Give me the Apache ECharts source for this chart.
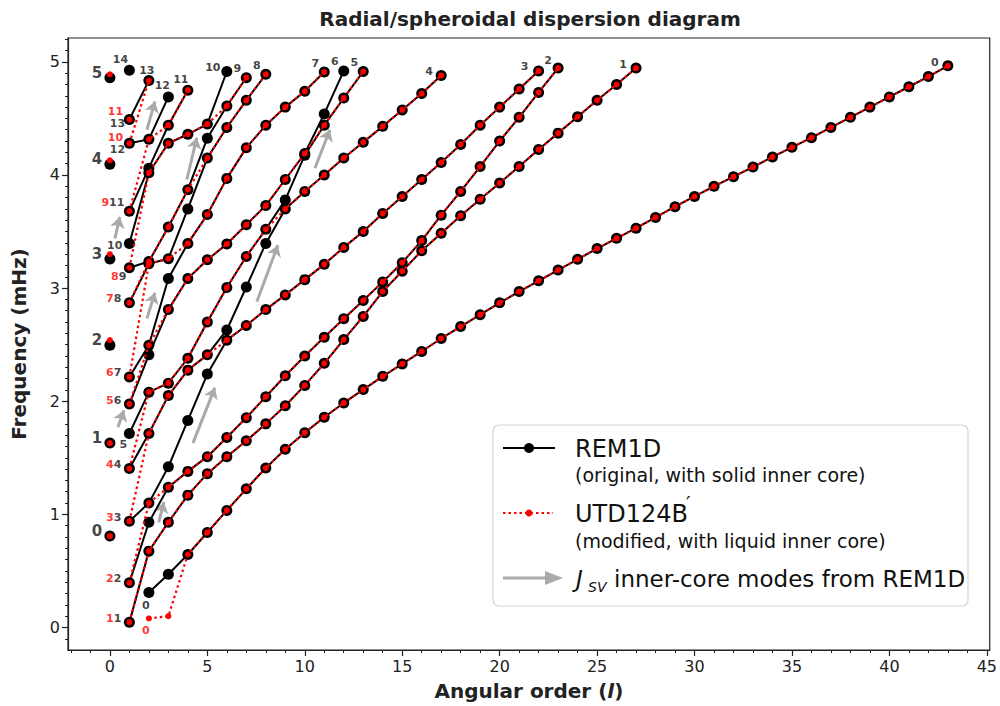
<!DOCTYPE html>
<html><head><meta charset="utf-8">
<script src="https://cdn.jsdelivr.net/npm/echarts@6/dist/echarts.min.js"></script>
<style>html,body{margin:0;padding:0;background:#fff}#c{width:1000px;height:706px}</style>
</head><body><div id="c"></div>
<script>
// ================= DATA =================
const xTickLabels = [0,5,10,15,20,25,30,35,40,45];
const yTickLabels = [0,1,2,3,4,5];

// radial modes (l = 0), mHz
const radialRem = [0.808, 1.63, 2.496, 3.257, 4.095, 4.86];
const radialUtd = [0.808, 1.63, 2.54, 3.30, 4.13, 4.89];

// l = 1 modes present in both models
const l1Shared = [0.047, 0.395, 0.94, 1.405, 1.975, 2.215, 2.87, 3.18, 3.68, 4.28, 4.49];

// fundamental branch, REM1D, l = 2..43
const fundamental = [0.31,0.47,0.645,0.84,1.035,1.226,1.41,1.575,1.722,1.858,1.985,2.103,2.22,2.33,2.44,2.555,2.66,2.765,2.87,2.97,3.065,3.16,3.255,3.35,3.44,3.53,3.625,3.72,3.81,3.90,3.985,4.07,4.16,4.245,4.33,4.42,4.51,4.60,4.69,4.78,4.87,4.965];
// UTD124B' lowest modes at l = 2, 3 (replace the first two fundamental values)
const fundamentalUtdLow = [0.08, 0.10];

// shared overtone curves (start l = 2)
const overtone1 = [0.675,0.93,1.17,1.36,1.51,1.65,1.80,1.96,2.14,2.335,2.545,2.75,2.97,3.15,3.33,3.485,3.64,3.785,3.93,4.075,4.225,4.37,4.515,4.66,4.80,4.945];
const overtone2 = [1.10,1.24,1.38,1.51,1.68,1.855,2.04,2.225,2.40,2.565,2.73,2.89,3.055,3.225,3.42,3.645,3.855,4.075,4.30,4.51,4.73,4.945];
const overtone3 = [2.08,2.16,2.275,2.41,2.54,2.67,2.81,2.94,3.075,3.21,3.36,3.50,3.66,3.81,3.96,4.11,4.27,4.44,4.60,4.76,4.92];
const overtone4 = [1.715,2.05,2.38,2.70,3.005,3.28,3.52,3.70,3.855,4.00,4.15,4.29,4.43,4.575,4.72,4.88];

// remaining shared higher modes, by angular order
const higherL2  = [2.495, 3.215, 3.235, 4.02, 4.315, 4.835];
const higherL3  = [2.81, 3.26, 3.54, 4.28, 4.44];
const higherL4  = [3.085, 3.395, 3.87, 4.36, 4.75];
const higherL5  = [3.25, 3.65, 4.15, 4.45];
const higherL6  = [3.39, 3.97, 4.42, 4.61];
const higherL7  = [3.56, 4.24, 4.66, 4.86];
const higherL8  = [3.73, 4.44, 4.89];
const higherL9  = [3.96, 4.60];
const higherL10 = [4.19, 4.74];
const higherL11 = [4.44, 4.91];
const higherL12 = [4.68];
const higherL13 = [4.915];

// inner-core (J_SV) modes, REM1D only
const jsv1 = [0.93,1.42,1.83,2.24,2.63,3.01,3.395,3.78,4.175,4.54,4.92]; // l = 2..12
const jsv2 = [1.715,2.41,3.085,3.70,4.325,4.915];                      // l = 1..6
const jsv3 = [3.395,4.06,4.69];                                        // l = 1..3
const jsv4 = [4.925];                                                  // l = 1

// grey J_SV arrows [l0, f0, l1, f1]
const jsvArrows = [
  [0.41,1.77,0.72,1.92],[0.26,3.44,0.51,3.63],[1.90,4.40,2.31,4.65],[3.95,3.96,4.46,4.33],
  [1.90,2.73,2.31,2.96],[7.54,2.88,8.62,3.38],[4.26,1.63,5.39,2.12],[2.51,0.93,2.77,1.11],
  [10.52,4.06,11.29,4.40]
];

// ================= BUILD =================
const remAt = {}, utdAt = {};
const push = (m,l,f)=>{(m[l]=m[l]||[]).push(f);};
function addCurve(vals,l0,toRem,toUtd){vals.forEach((f,i)=>{if(toRem)push(remAt,l0+i,f);if(toUtd)push(utdAt,l0+i,f);});}
l1Shared.forEach(f=>{push(remAt,1,f);push(utdAt,1,f);});
addCurve(fundamental,2,true,false);
addCurve(fundamental.slice(2),4,false,true);
addCurve(fundamentalUtdLow,2,false,true);
[overtone1,overtone2,overtone3,overtone4].forEach(c=>addCurve(c,2,true,true));
[higherL2,higherL3,higherL4,higherL5,higherL6,higherL7,higherL8,higherL9,higherL10,higherL11,higherL12,higherL13]
  .forEach((arr,i)=>arr.forEach(f=>{push(remAt,i+2,f);push(utdAt,i+2,f);}));
addCurve(jsv1,2,true,false);addCurve(jsv2,1,true,false);addCurve(jsv3,1,true,false);addCurve(jsv4,1,true,false);

function branches(map){
  const br={};
  Object.keys(map).map(Number).sort((a,b)=>a-b).forEach(l=>{
    const s=map[l].slice().sort((a,b)=>a-b);
    s.forEach((f,i)=>{const n=i+(l===1?1:0);(br[n]=br[n]||[]).push([l,f]);});
  });
  return br;
}
const remBr = branches(remAt), utdBr = branches(utdAt);

const FONT='DejaVu Sans';
const RED='#ff0000';
const series=[];
Object.keys(remBr).forEach(n=>{
  series.push({type:'line',data:remBr[n],symbol:'circle',symbolSize:11,showAllSymbol:true,z:3,
    itemStyle:{color:'#000'},lineStyle:{color:'#000',width:2},emphasis:{disabled:true},silent:true});
});
Object.keys(utdBr).forEach(n=>{
  series.push({type:'line',data:utdBr[n],symbol:'circle',symbolSize:6,showAllSymbol:true,z:4,
    itemStyle:{color:RED},lineStyle:{color:RED,width:2.2,type:[2.5,3]},emphasis:{disabled:true},silent:true});
});
series.push({type:'scatter',data:radialRem.map(f=>[0,f]),symbolSize:11,itemStyle:{color:'#000',opacity:1},z:3,silent:true});
series.push({type:'scatter',data:radialUtd.map(f=>[0,f]),symbolSize:6,itemStyle:{color:RED,opacity:1},z:4,silent:true});

// arrows
series.push({type:'lines',coordinateSystem:'cartesian2d',z:2,silent:true,
  symbol:['none','arrow'],symbolSize:[0,11],
  lineStyle:{color:'#aaaaaa',width:3,opacity:1,curveness:0},
  data:jsvArrows.map(a=>({coords:[[a[0],a[1]],[a[2],a[3]]]}))});

// labels
const labels=[];
function lab(l,f,text,color,dx,dy,align,size){
  labels.push({value:[l,f],label:{show:true,position:'inside',formatter:text,color:color,offset:[dx,dy],
    align:align||'center',verticalAlign:'middle',fontSize:size||11,fontWeight:'bold',fontFamily:FONT}});
}
radialRem.forEach((f,n)=>lab(0,f,String(n),'#111',-13,-5,'center',15));
const remL1=remAt[1].slice().sort((a,b)=>a-b), utdL1=utdAt[1].slice().sort((a,b)=>a-b);
const l1Style={5:[-6,11,'center'],9:[-3,9,'right'],10:[-7,2,'right'],11:[-5,-9,'right'],14:[-9,-11,'center']};
remL1.forEach((f,i)=>{
  const rn=i+1, ui=utdL1.indexOf(f);
  if(rn===12||rn===13){
    const dyR = rn===12?-6:-8, dyB = rn===12?6:4;
    lab(1,f,String(ui+1),RED,-14,dyR,'center');
    lab(1,f,String(rn),'#111',-12,dyB,'center');
    return;
  }
  const st=l1Style[rn]||[-8,-4,'right'];
  const txt = ui>=0 ? '{r|'+(ui+1)+'}{b|'+rn+'}' : '{b|'+rn+'}';
  labels.push({value:[1,f],label:{show:true,position:'inside',formatter:txt,offset:[st[0],st[1]],align:st[2],
    verticalAlign:'middle',rich:{r:{color:RED,fontSize:11,fontWeight:'bold',fontFamily:FONT},b:{color:'#111',fontSize:11,fontWeight:'bold',fontFamily:FONT}}}});
});
const endOff={0:[-13,-3],1:[-13,-4],2:[-10,-8],3:[-14,-4],4:[-12,-4],10:[-14,-4],11:[-7,-11],12:[-6,-11],13:[-2,-10]};
Object.keys(remBr).forEach(n=>{
  const b=remBr[n], p=b[b.length-1];
  if(p[0]===1) return;
  const o=endOff[n]||[-9,-9];
  lab(p[0],p[1],String(n),'#111',o[0],o[1],'center');
});
lab(2,remBr[0][0][1],'0','#111',-3,13,'center');
lab(2,utdBr[0][0][1],'0',RED,-3,12,'center');
series.push({type:'scatter',data:labels,symbolSize:0.1,itemStyle:{color:'transparent'},z:8,silent:true});

// ================= OPTION =================
const xMinor=[];for(let v=-2;v<=45;v++)xMinor.push(v);
const yMinor=[];for(let v=-1;v<=52;v++)yMinor.push(+(v/10).toFixed(1));
const axCol='#222';
const option={
  animation:false,backgroundColor:'#fff',textStyle:{fontFamily:FONT},
  grid:{left:68,right:10,top:38,bottom:56,show:true,borderColor:axCol,borderWidth:1.2,backgroundColor:'transparent'},
  xAxis:[
    {type:'value',min:-2.15,max:45.15,splitLine:{show:false},
     axisLine:{onZero:false,lineStyle:{color:axCol,width:1.2}},
     axisTick:{customValues:xTickLabels,length:6,lineStyle:{color:axCol,width:1.2}},
     axisLabel:{customValues:xTickLabels,fontSize:16,color:axCol,margin:8,fontFamily:FONT},
     name:'Angular order ({i|l})',nameLocation:'middle',nameGap:31,
     nameTextStyle:{fontWeight:'bold',fontSize:20,color:axCol,fontFamily:FONT,
       rich:{i:{fontStyle:'italic',fontWeight:'bold',fontSize:20,color:axCol,fontFamily:FONT}}}},
    {type:'value',min:-2.15,max:45.15,position:'bottom',splitLine:{show:false},
     axisLine:{show:false,onZero:false},axisTick:{customValues:xMinor,length:3,lineStyle:{color:axCol,width:1}},
     axisLabel:{show:false}}
  ],
  yAxis:[
    {type:'value',min:-0.199,max:5.211,splitLine:{show:false},
     axisLine:{onZero:false,lineStyle:{color:axCol,width:1.2}},
     axisTick:{customValues:yTickLabels,length:6,lineStyle:{color:axCol,width:1.2}},
     axisLabel:{customValues:yTickLabels,fontSize:16,color:axCol,margin:8,fontFamily:FONT},
     name:'Frequency (mHz)',nameLocation:'middle',nameGap:39,
     nameTextStyle:{fontWeight:'bold',fontSize:20,color:axCol,fontFamily:FONT}},
    {type:'value',min:-0.199,max:5.211,position:'left',splitLine:{show:false},
     axisLine:{show:false,onZero:false},axisTick:{customValues:yMinor,length:3,lineStyle:{color:axCol,width:1}},
     axisLabel:{show:false}}
  ],
  series:series,
  graphic:[
    {type:'text',x:530,y:19,z:20,style:{text:'Radial/spheroidal dispersion diagram',font:'bold 20px "DejaVu Sans"',fill:'#222',align:'center',verticalAlign:'middle'}},
    {type:'rect',z:20,shape:{x:493,y:425,width:475,height:181,r:6},style:{fill:'rgba(255,255,255,0.9)',stroke:'#d3d3d3',lineWidth:1.2}},
    {type:'line',z:21,shape:{x1:503,y1:448,x2:555,y2:448},style:{stroke:'#000',lineWidth:2.2}},
    {type:'circle',z:21,shape:{cx:529,cy:448,r:5},style:{fill:'#000'}},
    {type:'text',z:21,x:575,y:449,style:{text:'REM1D',font:'24px "DejaVu Sans"',fill:'#111',verticalAlign:'middle'}},
    {type:'text',z:21,x:575,y:475,style:{text:'(original, with solid inner core)',font:'19px "DejaVu Sans"',fill:'#111',verticalAlign:'middle'}},
    {type:'line',z:21,shape:{x1:503,y1:513,x2:553,y2:513},style:{stroke:RED,lineWidth:2.2,lineDash:[2.5,3]}},
    {type:'circle',z:21,shape:{cx:529,cy:513,r:3.5},style:{fill:RED}},
    {type:'text',z:21,x:575,y:514,style:{text:'UTD124B',font:'24px "DejaVu Sans"',fill:'#111',verticalAlign:'middle'}},
    {type:'text',z:21,x:686,y:503,style:{text:'\u2032',font:'20px "DejaVu Sans"',fill:'#111',verticalAlign:'middle'}},
    {type:'text',z:21,x:575,y:541,style:{text:'(modified, with liquid inner core)',font:'19px "DejaVu Sans"',fill:'#111',verticalAlign:'middle'}},
    {type:'line',z:21,shape:{x1:503,y1:578,x2:550,y2:578},style:{stroke:'#aaaaaa',lineWidth:3}},
    {type:'polygon',z:21,shape:{points:[[545,571],[563,578],[545,585]]},style:{fill:'#aaaaaa'}},
    {type:'text',z:21,x:576,y:579,style:{text:'J',font:'italic 23px "DejaVu Sans"',fill:'#111',verticalAlign:'middle'}},
    {type:'text',z:21,x:588,y:587,style:{text:'SV',font:'italic 14px "DejaVu Sans"',fill:'#111',verticalAlign:'middle'}},
    {type:'text',z:21,x:614,y:579,style:{text:'inner-core modes from REM1D',font:'23px "DejaVu Sans"',fill:'#111',verticalAlign:'middle'}}
  ]
};
const chart=echarts.init(document.getElementById('c'),null,{renderer:'svg',width:1000,height:706});
chart.setOption(option);
</script></body></html>
